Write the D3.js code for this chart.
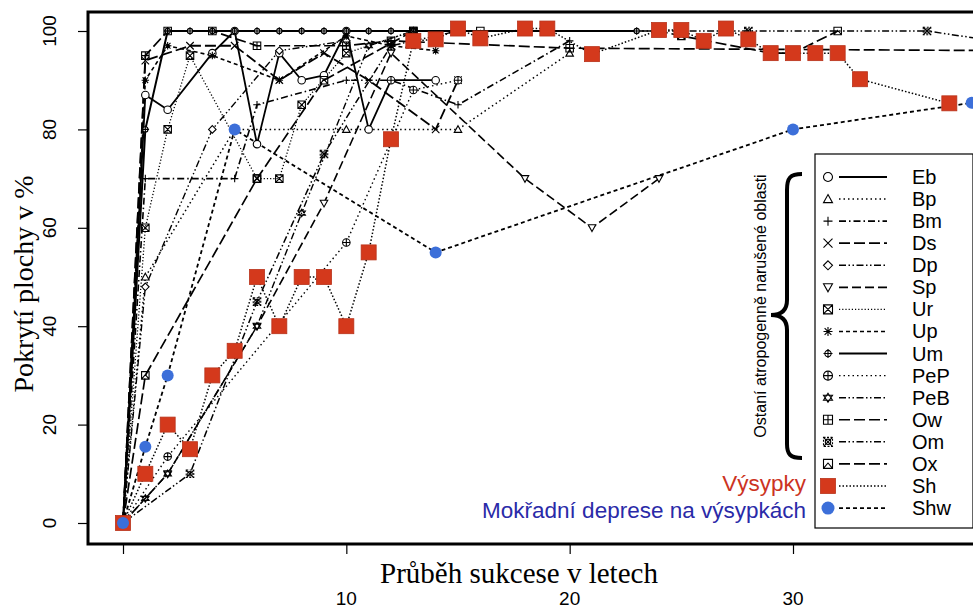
<!DOCTYPE html>
<html><head><meta charset="utf-8">
<script src="https://cdn.jsdelivr.net/npm/d3@7"></script>
<style>body{margin:0;background:#fff}svg{display:block}</style>
</head><body>
<svg id="c" width="973" height="610"></svg>
<script>
// ---- data (years, % cover) ----
const Eb  = [[0,0],[1,87],[2,84],[4,95.5],[5,100],[6,77],[7,95.5],[8,90],[9,91],[10,100],[11,80],[12,90],[14,90]];
const Bp  = [[0,0],[1,50],[5,80],[10,80],[15,80],[20,95.5]];
const Bm  = [[0,0],[1,70],[5,70],[6,85],[10,90],[12,90],[15,85],[20,98]];
const Ds  = [[0,0],[1,94],[3,97],[5,97],[7,90],[9,95.5],[11,90],[14,80],[15,90]];
const Dp  = [[0,0],[1,48],[4,80],[7,96],[10,98]];
const Sp  = [[0,0],[2,10],[6,40],[9,65],[12,95.5],[18,70],[21,60],[24,70]];
const Ur  = [[0,0],[1,60],[2,80],[3,95],[6,70],[7,70],[8,85],[10,95.5],[13,100]];
const Up  = [[0,0],[1,90],[2,97],[4,95],[7,90],[10,99],[12,97],[14,96]];
const Um  = [[0,0],[1,80],[2,100],[3,100],[4,100],[5,100],[6,100],[7,100],[8,100],[9,100],[10,100],[11,100],[12,100],[13,100],[23,100]];
const PeP = [[0,0],[2,13.5],[10,57],[13,88],[15,90]];
const PeB = [[0,0],[1,5],[2,10],[6,40],[8,63],[11,97],[13,100]];
const Ow  = [[0,0],[1,95],[2,100],[4,100],[6,97],[10,97],[12,98],[20,96.5],[40,96]];
const Om  = [[0,0],[3,10],[6,45],[9,75],[12,97],[15,100],[28,100],[36,100],[39,98]];
const Ox  = [[0,0],[1,30],[6,70],[9,90],[13,100],[16,100],[24,100],[25,99],[29,95.5],[30,95.5],[32,100]];
const Sh  = [[0,0],[1,10],[2,20],[3,15],[4,30],[5,35],[6,50],[7,40],[8,50],[9,50],[10,40],[11,55],[12,78],[13,98],[14,98.3],[15,100.5],[16,98.5],[18,100.5],[19,100.5],[21,95.3],[24,100.2],[25,100.2],[26,98],[27,100.5],[28,98.3],[29,95.5],[30,95.5],[31,95.5],[32,95.5],[33,90.2],[37,85.3]];
const Shw = [[0,0],[1,15.5],[2,30],[5,80],[14,55],[30,80],[38,85.4]];

const seriesNames = ["Eb","Bp","Bm","Ds","Dp","Sp","Ur","Up","Um","PeP","PeB","Ow","Om","Ox","Sh","Shw"];
const seriesData  = [Eb,Bp,Bm,Ds,Dp,Sp,Ur,Up,Um,PeP,PeB,Ow,Om,Ox,Sh,Shw];
const xTicks = [0,10,20,30];
const xTickLabels = ["","10","20","30"];
const yTicks = [0,20,40,60,80,100];

const styles = {
  Eb:{dash:null,w:1.8,m:"circle"},
  Bp:{dash:"1.5,3",w:1.5,m:"triup"},
  Bm:{dash:"7,3,1.5,3",w:1.6,m:"plus"},
  Ds:{dash:"11,4",w:1.8,m:"cross"},
  Dp:{dash:"7,2.5,1.5,2.5,1.5,2.5",w:1.4,m:"diamond"},
  Sp:{dash:"9,4",w:1.6,m:"tridown"},
  Ur:{dash:"1.2,2",w:1.3,m:"boxx"},
  Up:{dash:"4,3",w:1.6,m:"star"},
  Um:{dash:null,w:2,m:"crosshair"},
  PeP:{dash:"1.5,3",w:1.4,m:"oplus"},
  PeB:{dash:"7,2.5,1.5,2.5,1.5,2.5",w:1.4,m:"david"},
  Ow:{dash:"11,4",w:1.7,m:"boxplus"},
  Om:{dash:"7,2.5,1.5,2.5,1.5,2.5",w:1.5,m:"boxox"},
  Ox:{dash:"11,4",w:1.7,m:"boxtri"},
  Sh:{dash:"1.5,2",w:1.5,m:"redsq"},
  Shw:{dash:"4,3",w:1.8,m:"bluedot"}
};
const RED="#d4391c", BLUE="#3c6fd9";

const svg = d3.select("#c");
const x = d3.scaleLinear().domain([0,30]).range([123,793]);
const y = d3.scaleLinear().domain([0,100]).range([523,31]);
const L=88, T=12, B=544, R=995;

svg.append("defs").append("clipPath").attr("id","clip")
  .append("rect").attr("x",L).attr("y",T).attr("width",R-L).attr("height",B-T);

function marker(g, type, s){
  const p = g.append("g");
  const h = s/2;
  const path = d => p.append("path").attr("d",d).attr("fill","none").attr("stroke","#000").attr("stroke-width",1.1);
  switch(type){
    case "circle": p.append("circle").attr("r",h).attr("fill","#fff").attr("stroke","#000").attr("stroke-width",1.1); break;
    case "triup": path(`M0,${-h}L${h},${h*0.8}L${-h},${h*0.8}Z`).attr("fill","#fff"); break;
    case "tridown": path(`M0,${h}L${h},${-h*0.8}L${-h},${-h*0.8}Z`).attr("fill","#fff"); break;
    case "plus": path(`M${-h},0H${h}M0,${-h}V${h}`); break;
    case "cross": path(`M${-h},${-h}L${h},${h}M${h},${-h}L${-h},${h}`); break;
    case "diamond": path(`M0,${-h}L${h},0L0,${h}L${-h},0Z`).attr("fill","#fff"); break;
    case "boxx": path(`M${-h},${-h}H${h}V${h}H${-h}ZM${-h},${-h}L${h},${h}M${h},${-h}L${-h},${h}`); break;
    case "star": path(`M${-h},0H${h}M0,${-h}V${h}M${-h*0.75},${-h*0.75}L${h*0.75},${h*0.75}M${h*0.75},${-h*0.75}L${-h*0.75},${h*0.75}`); break;
    case "crosshair": p.append("circle").attr("r",h*0.7).attr("fill","#fff").attr("stroke","#000").attr("stroke-width",1.1); path(`M${-h},0H${h}M0,${-h}V${h}`); break;
    case "oplus": p.append("circle").attr("r",h).attr("fill","#fff").attr("stroke","#000").attr("stroke-width",1.1); path(`M${-h},0H${h}M0,${-h}V${h}`); break;
    case "david": path(`M0,${-h}L${h},${h*0.55}L${-h},${h*0.55}ZM0,${h}L${h},${-h*0.55}L${-h},${-h*0.55}Z`); break;
    case "boxplus": path(`M${-h},${-h}H${h}V${h}H${-h}ZM${-h},0H${h}M0,${-h}V${h}`); break;
    case "boxox": path(`M${-h},${-h}L${h},${h}M${h},${-h}L${-h},${h}`); p.append("circle").attr("r",h*0.6).attr("fill","none").attr("stroke","#000").attr("stroke-width",1.1); path(`M${-h},${-h}H${h}V${h}H${-h}Z`).attr("stroke-dasharray","2,1.5"); break;
    case "boxtri": path(`M${-h},${-h}H${h}V${h}H${-h}ZM${-h},${h}L0,${-h*0.2}L${h},${h}`); break;
    case "redsq": p.append("rect").attr("x",-h).attr("y",-h).attr("width",s).attr("height",s).attr("fill",RED).attr("stroke","#b8321a").attr("stroke-width",0.8); break;
    case "bluedot": p.append("circle").attr("r",h).attr("fill",BLUE); break;
  }
  return p;
}

const plot = svg.append("g").attr("clip-path","url(#clip)");
const line = d3.line().x(d=>x(d[0])).y(d=>y(d[1]));

seriesNames.forEach((n,i)=>{
  const st = styles[n];
  plot.append("path").datum(seriesData[i]).attr("d",line)
    .attr("fill","none").attr("stroke","#000").attr("stroke-width",st.w)
    .attr("stroke-dasharray",st.dash).attr("stroke-linejoin","round");
});
seriesNames.forEach((n,i)=>{
  const st = styles[n];
  const size = n==="Sh"?15:(n==="Shw"?12:7.5);
  seriesData[i].slice(1).forEach(d=>{
    marker(plot, st.m, size).attr("transform",`translate(${x(d[0])},${y(d[1])})`);
  });
  if(n==="Sh"||n==="Shw"){ marker(plot, st.m, size).attr("transform",`translate(${x(0)},${y(0)})`); }
});

// frame
svg.append("path").attr("d",`M${R},${T}H${L}V${B}H${R}`).attr("fill","none").attr("stroke","#000").attr("stroke-width",3);

// axes
const xAxis = d3.axisBottom(x).tickValues(xTicks).tickFormat(()=>"").tickSize(10).tickSizeOuter(0);
const gx = svg.append("g").attr("transform",`translate(0,${B})`).call(xAxis);
gx.select(".domain").remove();
gx.selectAll("line").attr("stroke","#000").attr("stroke-width",1.2);
svg.append("g").selectAll("text").data(xTicks).join("text")
  .attr("x",d=>x(d)).attr("y",605).attr("text-anchor","middle")
  .attr("font-family","Liberation Sans, Arial, sans-serif").attr("font-size",19)
  .text((d,i)=>xTickLabels[i]);

const yAxis = d3.axisLeft(y).tickValues(yTicks).tickFormat(()=>"").tickSize(10).tickSizeOuter(0);
const gy = svg.append("g").attr("transform",`translate(${L},0)`).call(yAxis);
gy.select(".domain").remove();
gy.selectAll("line").attr("stroke","#000").attr("stroke-width",1.2);
svg.append("g").selectAll("text").data(yTicks).join("text")
  .attr("transform",d=>`translate(56,${y(d)}) rotate(-90)`).attr("text-anchor","middle")
  .attr("font-family","Liberation Sans, Arial, sans-serif").attr("font-size",19)
  .text(d=>d);

svg.append("text").attr("transform","translate(33,284) rotate(-90)").attr("text-anchor","middle")
  .attr("font-family","Liberation Serif, Times New Roman, serif").attr("font-size",28)
  .text("Pokrytí plochy v %");
svg.append("text").attr("x",519).attr("y",583).attr("text-anchor","middle")
  .attr("font-family","Liberation Serif, Times New Roman, serif").attr("font-size",29)
  .text("Průběh sukcese v letech");

// legend
const lg = svg.append("g");
lg.append("rect").attr("x",815).attr("y",154).attr("width",158).attr("height",374).attr("fill","#fff").attr("stroke","#000").attr("stroke-width",1.2);
seriesNames.forEach((n,i)=>{
  const yy = 177 + i*22.07;
  const st = styles[n];
  const size = n==="Sh"?15:(n==="Shw"?13:9);
  marker(lg, st.m, size).attr("transform",`translate(828,${yy})`);
  lg.append("line").attr("x1",839).attr("x2",887).attr("y1",yy).attr("y2",yy)
    .attr("stroke","#000").attr("stroke-width",st.w).attr("stroke-dasharray",st.dash);
  lg.append("text").attr("x",912).attr("y",yy+7).attr("font-family","Liberation Sans, Arial, sans-serif")
    .attr("font-size",20).text(n);
});
// brace
lg.append("path").attr("d","M802,174 C790,174 787,178 787,190 L787,300 C787,310 782,315 771,315 C782,315 787,320 787,330 L787,444 C787,454 790,458 802,458")
  .attr("fill","none").attr("stroke","#000").attr("stroke-width",4);
lg.append("text").attr("transform","translate(766,306) rotate(-90)").attr("text-anchor","middle")
  .attr("font-family","Liberation Sans, Arial, sans-serif").attr("font-size",16)
  .text("Ostaní atropogenně narušené oblasti");
lg.append("text").attr("x",806).attr("y",491).attr("text-anchor","end")
  .attr("font-family","Liberation Sans, Arial, sans-serif").attr("font-size",22.5).attr("fill","#cc3322")
  .text("Výsypky");
lg.append("text").attr("x",806).attr("y",518).attr("text-anchor","end")
  .attr("font-family","Liberation Sans, Arial, sans-serif").attr("font-size",22.5).attr("fill","#2a2aa8")
  .text("Mokřadní deprese na výsypkách");
</script>
</body></html>
